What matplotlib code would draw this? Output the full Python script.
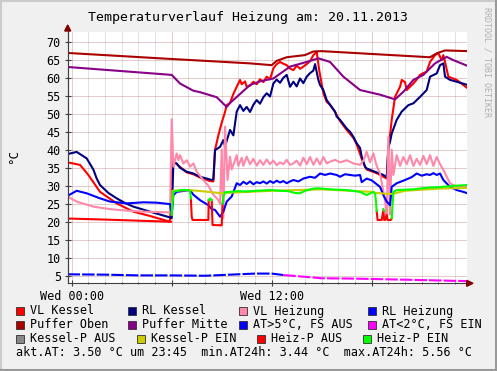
import matplotlib
matplotlib.use("Agg")
import matplotlib.pyplot as plt
from matplotlib.patches import Rectangle, Polygon
from matplotlib.lines import Line2D
import numpy as np

nan = np.nan
MONO = "DejaVu Sans Mono"

# --- data (hours since Wed 00:00, degrees C) ---
vl_kessel_t = [-0.25, 0.5, 1.0, 1.7, 2.7, 3.7, 4.7, 5.9, 6.05, 6.3, 6.9, 7.3, 7.7, 8.3, 8.5,
               8.6, 8.8, 9.0, 9.2, 9.3, 9.5, 9.7, 9.9, 10.1, 10.2, 10.4, 10.5, 10.7, 10.9, 11.1,
               11.3, 11.5, 11.7, 11.9, 12.1, 12.3, 12.5, 12.7, 12.9, 13.1, 13.3, 13.5, 13.7,
               13.9, 14.1, 14.3, 14.5, 14.7, 14.85, 15.1, 15.3, 15.5, 15.8, 16.1, 16.5, 16.9,
               17.1, 17.4, 17.6, 17.7, 18.3, 18.7, 18.9, 19.0, 19.1, 19.2, 19.4, 19.7, 19.8,
               20.0, 20.1, 20.3, 20.5, 20.7, 20.9, 21.1, 21.3, 21.5, 21.8, 22.0, 22.2, 22.3,
               22.4, 22.6, 23.1, 23.75]
vl_kessel = [36.5, 35.8, 33.0, 28.3, 25.1, 22.8, 21.6, 20.0, 37.0, 36.0, 33.7, 33.2, 32.3, 31.3, 31.2,
             40.0, 44.0, 47.5, 50.5, 52.4, 53.0, 55.5, 57.5, 59.4, 58.2, 59.0, 57.5, 57.8, 58.9, 58.2,
             59.6, 58.8, 60.3, 59.6, 62.6, 63.8, 64.4, 63.9, 63.5, 62.6, 62.1, 63.4, 62.5,
             63.1, 63.8, 64.6, 66.3, 67.2, 62.1, 55.7, 53.3, 52.5, 50.5, 48.0, 45.5, 43.3,
             41.5, 37.5, 35.3, 34.5, 33.5, 32.5, 32.0, 40.0, 44.0, 48.3, 54.7, 57.5, 59.4,
             58.8, 56.6, 57.5, 58.4, 59.5, 60.8, 61.3, 61.7, 64.4, 66.3, 66.8, 64.9, 66.3,
             64.4, 60.3, 59.4, 57.1]

rl_kessel_t = [-0.25, 0.3, 0.9, 1.3, 1.5, 1.7, 2.2, 2.7, 3.2, 3.7, 4.7, 5.9, 6.0, 6.1, 6.3, 6.5,
               6.9, 7.3, 7.7, 8.1, 8.4, 8.5, 8.6, 8.9, 9.1, 9.2, 9.5, 9.7, 9.9, 10.1, 10.3, 10.5,
               10.7, 10.9, 11.1, 11.3, 11.5, 11.7, 11.9, 12.1, 12.3, 12.5, 12.7, 12.9, 13.1,
               13.3, 13.5, 13.7, 13.9, 14.1, 14.3, 14.5, 14.6, 14.8, 14.9, 15.1, 15.3, 15.5,
               15.8, 15.9, 16.1, 16.5, 16.7, 16.9, 17.1, 17.3, 17.4, 17.6, 17.7, 18.3, 18.7,
               18.9, 19.0, 19.1, 19.2, 19.5, 19.8, 20.2, 20.5, 20.9, 21.3, 21.5, 21.9, 22.1,
               22.3, 22.4, 22.7, 23.1, 23.75]
rl_kessel = [38.8, 39.4, 37.6, 34.5, 32.0, 30.2, 28.0, 26.5, 25.2, 24.2, 22.8, 21.2, 21.0, 36.5, 36.2, 35.0,
             33.9, 33.4, 32.5, 32.0, 31.6, 31.8, 39.9, 40.8, 42.7, 41.0, 45.5, 44.0, 50.6, 52.4, 50.8, 51.9,
             50.5, 52.5, 53.8, 52.8, 54.6, 55.7, 54.8, 58.4, 59.5, 58.6, 60.0, 60.8, 57.5,
             58.9, 57.6, 59.8, 58.5, 60.3, 61.3, 62.0, 63.8, 59.4, 58.0, 56.6, 53.8, 52.5,
             50.6, 49.2, 48.3, 45.9, 45.0, 43.6, 41.8, 40.5, 38.1, 35.3, 34.8, 33.7, 33.0,
             32.3, 40.8, 42.2, 44.5, 48.3, 50.6, 52.4, 52.9, 54.7, 56.6, 60.3, 61.2, 63.5,
             64.0, 60.3, 59.4, 58.9, 58.0]

vl_heiz_t = [-0.25, 0.3, 1.3, 2.3, 3.3, 4.3, 5.9, 6.0, 6.1, 6.3, 6.4, 6.5, 6.7, 6.9, 7.1, 7.3,
             7.5, 7.9, 8.2, 8.5, 8.8, 8.9, 9.0, 9.1, 9.2, 9.35, 9.5, 9.6, 9.9, 10.0, 10.2, 10.3,
             10.5, 10.7, 10.9, 11.1, 11.3, 11.5, 11.7, 11.9, 12.1, 12.3, 12.5, 12.7, 12.9,
             13.1, 13.3, 13.5, 13.7, 13.9, 14.1, 14.3, 14.5, 14.7, 14.9, 15.1, 15.3, 15.5,
             15.8, 16.1, 16.5, 16.9, 17.3, 17.5, 17.7, 17.9, 18.1, 18.3, 18.5, 18.8, 18.9,
             19.0, 19.1, 19.2, 19.3, 19.5, 19.7, 19.9, 20.1, 20.3, 20.5, 20.7, 20.9, 21.1,
             21.3, 21.5, 21.7, 21.9, 22.1, 22.3, 22.7, 23.1, 23.75]
vl_heiz = [27.0, 25.6, 24.2, 23.5, 23.1, 22.8, 22.6, 48.5, 35.3, 39.0, 37.1, 38.5, 36.2, 37.1, 35.3, 36.2,
           33.9, 31.6, 30.0, 27.5, 26.0, 25.0, 40.0, 21.0, 46.4, 31.6, 38.1, 34.5, 38.5, 35.5, 37.8, 35.5,
           38.1, 36.0, 37.5, 35.6, 37.1, 35.8, 37.3, 36.0, 37.0, 35.7, 36.5, 36.0, 37.2,
           35.8, 36.2, 37.0, 35.6, 37.8, 36.0, 38.0, 35.8, 37.6, 35.9, 38.0, 36.2, 36.7,
           37.2, 36.5, 37.1, 36.2, 35.8, 37.0, 39.4, 36.5, 39.0, 35.5, 33.4, 26.0, 21.4,
           43.6, 22.0, 40.0, 33.0, 38.5, 35.5, 38.0, 36.0, 38.5, 35.5, 37.5, 35.8, 38.3,
           36.0, 38.5, 35.5, 38.0, 36.0, 34.4, 30.7, 29.7, 29.7]

rl_heiz_t = [-0.25, 0.3, 0.9, 1.7, 2.3, 3.3, 4.3, 5.1, 5.9, 6.0, 6.1, 6.3, 7.1, 7.3, 7.7, 8.2,
             8.4, 8.6, 8.9, 9.1, 9.3, 9.6, 9.9, 10.1, 10.3, 10.5, 10.7, 10.9, 11.1, 11.3,
             11.5, 11.7, 11.9, 12.1, 12.3, 12.5, 12.7, 12.9, 13.1, 13.3, 13.6, 13.9, 14.3,
             14.6, 14.9, 15.2, 15.5, 15.9, 16.1, 16.4, 16.7, 17.0, 17.3, 17.4, 17.7, 18.0,
             18.5, 18.7, 18.9, 19.1, 19.2, 19.5, 20.0, 20.4, 20.7, 21.0, 21.3, 21.5, 21.7,
             21.9, 22.1, 22.3, 22.7, 23.1, 23.5, 23.75]
rl_heiz = [27.2, 28.6, 27.9, 26.5, 25.6, 25.1, 25.4, 25.3, 24.9, 21.8, 27.4, 28.3, 28.8, 27.5, 26.0, 24.6,
           23.5, 23.3, 21.4, 22.8, 25.6, 27.0, 30.7, 30.2, 31.1, 30.5, 31.2, 30.4, 31.0, 30.7,
           31.2, 30.6, 31.3, 30.8, 31.4, 30.9, 31.3, 30.7, 31.2, 31.6, 31.2, 32.0, 32.5,
           32.2, 33.4, 33.0, 33.4, 33.0, 32.5, 33.2, 33.0, 32.8, 33.0, 31.0, 32.0, 31.5,
           29.7, 27.4, 25.6, 24.6, 29.7, 30.7, 31.6, 32.4, 33.4, 32.8, 33.2, 33.0, 33.5,
           33.0, 33.4, 31.6, 29.7, 28.8, 28.3, 27.9]

puffer_oben_t = [-0.25, 5.3, 10.7, 12.0, 12.3, 12.9, 14.0, 14.5, 15.0, 21.5, 21.9, 22.4, 23.75]
puffer_oben = [66.9, 65.4, 64.0, 63.5, 64.7, 65.7, 66.3, 67.3, 67.4, 65.7, 66.8, 67.6, 67.4]

puffer_mitte_t = [-0.25, 6.0, 6.5, 7.3, 7.7, 8.7, 9.3, 9.5, 10.1, 10.7, 11.3, 12.1, 13.1, 14.1,
                  14.8, 15.5, 16.3, 17.3, 18.5, 19.4, 19.9, 20.5, 21.1, 21.8, 22.5, 22.9, 23.75]
puffer_mitte = [63.0, 60.8, 58.4, 56.4, 56.0, 54.6, 51.9, 53.0, 55.5, 58.0, 59.0, 59.8, 63.1, 64.4,
                65.4, 64.4, 60.3, 56.6, 55.3, 54.0, 56.1, 59.4, 60.8, 64.0, 65.8, 64.9, 63.3]

at_warm_t = [-0.25, 2.0, 4.0, 6.0, 8.0, 10.0, 11.0, 12.0, 12.7]
at_warm = [5.4, 5.3, 5.1, 5.1, 5.0, 5.4, 5.6, 5.6, 5.2]
at_cold_t = [12.7, 14.0, 15.0, 17.0, 19.0, 21.0, 23.75]
at_cold = [5.2, 4.7, 4.3, 4.2, 4.0, 3.8, 3.5]

kessel_p_ein_t = [6.0, 6.05, 7.1, 8.0, 9.0, 9.2, 12.0, 15.0, 18.0, 18.3, 18.6, 19.0, 19.3, 20.0, 22.0, 23.75]
kessel_p_ein = [22.0, 28.6, 28.8, 28.4, 27.9, 28.0, 28.6, 29.0, 28.3, 28.0, 27.9, 27.7, 27.8, 28.6, 29.2, 29.4]

heiz_p_aus_t = [-0.25, 2.0, 4.0, 5.95, nan, 7.15, 7.2, 7.25, 8.2, 8.22, nan, 8.4, 8.45, 9.0, 9.05, nan,
                18.3, 18.35, 18.6, 18.7, 18.75, 18.8, 18.9, 18.95, 19.15, 19.2]
heiz_p_aus = [20.9, 20.6, 20.3, 20.0, nan, 26.5, 21.4, 20.5, 20.5, 26.0, nan, 26.0, 19.1, 19.0, 25.0, nan,
              23.0, 20.5, 20.5, 23.2, 20.5, 20.5, 21.9, 20.5, 20.5, 21.0]

heiz_p_ein_t = [6.0, 6.1, 6.5, 7.0, 7.1, 7.15, nan, 8.22, 8.3, 8.4, nan, 9.05, 9.1, 9.2, 9.5, 10.0,
                10.5, 11.0, 11.5, 12.0, 12.5, 13.0, 13.4, 13.7, 14.0, 14.5, 14.8, 15.5, 16.5, 17.3,
                17.7, 18.1, 18.2, 18.25, 18.3, nan, 18.7, 18.75, nan, 19.2, 19.3, 19.5, 20.0, 20.5,
                21.0, 21.5, 22.0, 22.5, 23.0, 23.75]
heiz_p_ein = [22.0, 28.3, 28.8, 28.8, 28.5, 26.5, nan, 26.0, 26.5, 26.0, nan, 25.0, 27.0, 28.2, 28.3, 28.5,
              28.4, 28.6, 28.7, 28.8, 28.6, 28.5, 28.0, 27.9, 28.6, 29.2, 29.3, 29.0, 28.8, 28.3,
              27.4, 28.3, 27.8, 26.0, 23.0, nan, 23.5, 23.0, nan, 21.0, 28.3, 28.8, 28.9, 29.0,
              29.3, 29.5, 29.6, 29.8, 30.0, 30.2]

legend_rows = [
    [("VL Kessel", "#ff0000"), ("RL Kessel", "#000080"), ("VL Heizung", "#ff88aa"), ("RL Heizung", "#0000ff")],
    [("Puffer Oben", "#aa0000"), ("Puffer Mitte", "#880088"), ("AT>5°C, FS AUS", "#0000ff"), ("AT<2°C, FS EIN", "#ff00ff")],
    [("Kessel-P AUS", "#888888"), ("Kessel-P EIN", "#cccc00"), ("Heiz-P AUS", "#ff0000"), ("Heiz-P EIN", "#00ff00")],
]
legend_x = [[16, 128.3, 239.3, 368.3], [16, 128.3, 239.3, 368.3], [16, 136.7, 256.7, 362.7]]
legend_y = [311, 325, 339]
info_text = "akt.AT: 3.50 °C um 23:45  min.AT24h: 3.44 °C  max.AT24h: 5.56 °C"

W, H = 497, 371
fig = plt.figure(figsize=(W / 100, H / 100), dpi=100, facecolor="#f0f0f0")
ax = fig.add_axes([67.7 / W, 1 - 283.3 / H, 399 / W, 251.6 / H], facecolor="white")

x0, x1 = -0.24, 23.70
y0, y1 = 2.9, 72.8
ax.set_xlim(x0, x1)
ax.set_ylim(y0, y1)

# grid
for hh in range(0, 24):
    if hh % 6 == 0:
        ax.axvline(hh, color="#821e1e", alpha=0.22, lw=0.75, zorder=0)
    else:
        ax.axvline(hh, color="#8c8c8c", alpha=0.25, lw=0.75, zorder=0)
for yy in range(5, 71, 5):
    ax.axhline(yy, color="#821e1e", alpha=0.22, lw=0.75, zorder=0)

lw = 1.5
ax.plot(vl_kessel_t, vl_kessel, color="#ff0000", lw=lw)
ax.plot(rl_kessel_t, rl_kessel, color="#000080", lw=lw)
ax.plot(vl_heiz_t, vl_heiz, color="#ff88aa", lw=lw)
ax.plot(rl_heiz_t, rl_heiz, color="#0000ff", lw=lw)
ax.plot(puffer_oben_t, puffer_oben, color="#aa0000", lw=lw)
ax.plot(puffer_mitte_t, puffer_mitte, color="#880088", lw=lw)
ax.plot(at_warm_t, at_warm, color="#0000ff", lw=lw, dashes=(6, 1))
ax.plot(at_cold_t, at_cold, color="#ff00ff", lw=lw, dashes=(6, 1))
ax.plot(kessel_p_ein_t, kessel_p_ein, color="#cccc00", lw=lw)
ax.plot(heiz_p_aus_t, heiz_p_aus, color="#ff0000", lw=lw)
ax.plot(heiz_p_ein_t, heiz_p_ein, color="#00ff00", lw=lw)

# axes
for s in ["top", "right"]:
    ax.spines[s].set_visible(False)
for s in ["left", "bottom"]:
    ax.spines[s].set_color("#404040")
    ax.spines[s].set_linewidth(0.8)
ax.set_yticks(range(5, 71, 5))
ax.set_xticks([0, 6, 12, 18])
ax.set_xticklabels(["Wed 00:00", "", "Wed 12:00", ""])
ax.set_xticks(range(1, 24), minor=True)
ax.tick_params(axis="both", which="major", direction="inout", length=4, width=0.8,
               color="#404040", labelsize=8.5, pad=3)
ax.tick_params(axis="x", which="minor", direction="inout", length=2, width=0.6, color="#404040")
for lab in ax.get_xticklabels() + ax.get_yticklabels():
    lab.set_family(MONO)

# arrows
def px(x, y):
    return (x / W, 1 - y / H)

fig.patches.append(Polygon([px(64.7, 31), px(70.7, 31), px(67.7, 25)], closed=True,
                           transform=fig.transFigure, color="#800000", zorder=5))
fig.patches.append(Polygon([px(466.7, 280.3), px(466.7, 286.3), px(473, 283.3)], closed=True,
                           transform=fig.transFigure, color="#800000", zorder=5))
fig.lines.append(Line2D([67.7 / W, 67.7 / W], [1 - 283.3 / H, 1 - 28 / H], transform=fig.transFigure,
                        color="#404040", lw=0.8))
fig.lines.append(Line2D([466.7 / W, 469 / W], [1 - 283.3 / H, 1 - 283.3 / H], transform=fig.transFigure,
                        color="#404040", lw=0.8))

# texts
fig.text(0.5, 1 - 17 / H, "Temperaturverlauf Heizung am: 20.11.2013", ha="center", va="center",
         family=MONO, fontsize=9.5)
fig.text(14 / W, 1 - 157 / H, "°C", rotation=90, ha="center", va="center", family=MONO, fontsize=9)
fig.text(487 / W, 1 - 7 / H, "RRDTOOL / TOBI OETIKER", rotation=270, ha="center", va="top",
         family=MONO, fontsize=6, color="#b0b0b0")

for r, row in enumerate(legend_rows):
    for c, (name, col) in enumerate(row):
        sx = legend_x[r][c]
        sy = legend_y[r]
        fig.patches.append(Rectangle(px(sx, sy + 4), 8 / W, 8 / H, transform=fig.transFigure,
                                     facecolor=col, edgecolor="#303030", lw=0.6))
        fig.text((sx + 14) / W, 1 - sy / H, name, ha="left", va="center", family=MONO, fontsize=8.5)
fig.text(16 / W, 1 - 353 / H, info_text, ha="left", va="center", family=MONO, fontsize=8.5)

# 3d frame
fig.lines.append(Line2D([0, 1], [1 - 1 / H, 1 - 1 / H], transform=fig.transFigure, color="#cbcbcb", lw=1.5))
fig.lines.append(Line2D([1 / W, 1 / W], [0, 1], transform=fig.transFigure, color="#cbcbcb", lw=1.5))
fig.lines.append(Line2D([1 - 1.5 / W, 1 - 1.5 / W], [0, 1], transform=fig.transFigure, color="#999999", lw=2.2))
fig.lines.append(Line2D([0, 1], [1.5 / H, 1.5 / H], transform=fig.transFigure, color="#999999", lw=2.2))

fig.savefig("out.png", dpi=100, facecolor=fig.get_facecolor())
